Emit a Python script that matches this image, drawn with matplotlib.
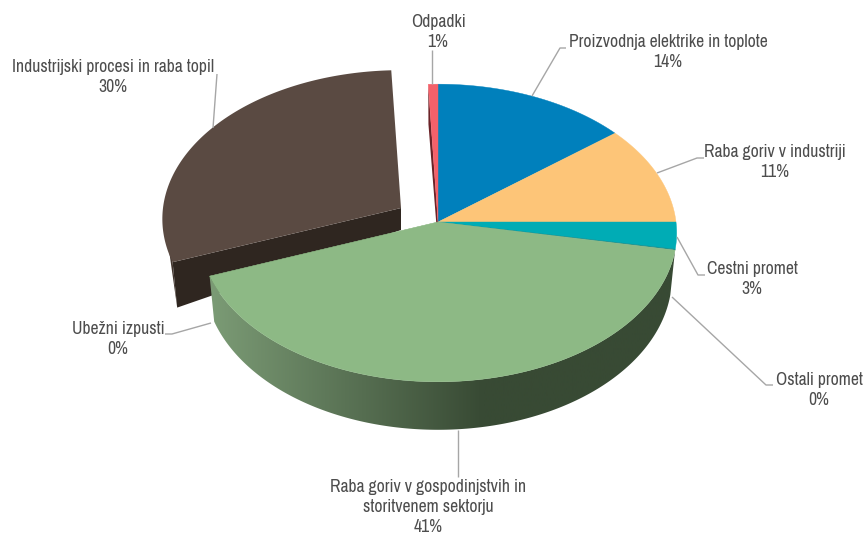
import matplotlib
matplotlib.use("Agg")
import matplotlib.pyplot as plt
import numpy as np
from matplotlib.colors import LinearSegmentedColormap
from matplotlib.patches import Polygon

plt.rcParams["font.family"] = ["Archivo Narrow", "Roboto Condensed", "Liberation Sans Narrow", "Liberation Sans"]

# shares, labels show them rounded
names = [
    "Proizvodnja elektrike in toplote",
    "Raba goriv v industriji",
    "Cestni promet",
    "Ostali promet",
    "Raba goriv v gospodinjstvih in\nstoritvenem sektorju",
    "Ubežni izpusti",
    "Industrijski procesi in raba topil",
    "Odpadki",
]
shares = [14.2, 10.8, 2.9, 0.1, 41.2, 0.0, 30.1, 0.7]
colors = ["#0080BC", "#FDC578", "#00ACB5", "#0F8A8A", "#8DB985", "#8DB985", "#5A4A42", "#F4616A"]

label_pos = [(668, 52), (775, 162), (752, 279), (819, 390), (428, 507), (118, 339), (113, 77), (438, 32)]
leaders = [
    [(532, 96), (560, 48), (566, 48)],
    [(657, 173), (697, 158), (704, 158)],
    [(677, 237), (698, 275), (705, 275)],
    [(672, 297), (766, 385), (773, 385)],
    [(458, 430), (458, 477)],
    [(211, 323), (172, 334), (165, 334)],
    [(213, 128), (217, 74)],
    [(432, 50), (432, 84)],
]

# perspective of the pie disc, in pixels
CX, CY = 438, 222
RX, RY, PERSP = 238, 148, 0.0738


def top(theta, shift=(0, 0)):
    u, v = np.sin(theta), np.cos(theta)
    s = 1 / (1 + PERSP * v)
    return CX + shift[0] + RX * u * s, CY + shift[1] - RY * v * s


def bottom(theta, shift=(0, 0)):
    x, y = top(theta)
    v = np.cos(theta)
    return CX + shift[0] + 0.98 * (x - CX), y + shift[1] + 44 - 4 * v


def arc(a, b):
    return np.linspace(a, b, max(int(abs(b - a) * 120), 2))


fig = plt.figure(figsize=(8.67, 5.35), dpi=100)
ax = fig.add_axes([0, 0, 1, 1])
ax.set_xlim(0, 867)
ax.set_ylim(535, 0)
ax.axis("off")

edges = np.cumsum([0] + shares) / 100 * 2 * np.pi
brown = 6
shift = (-37, -14)

# exploded slice first, it sits behind the rest
a, b = edges[brown], edges[brown + 1]
ux, uy = top(arc(a, b), shift)
bx, by = bottom(a, shift)
tx, ty = top(a, shift)
ex, ey = top(1.5 * np.pi, shift)
ax.fill([ex, bx, tx], [ey, by, ty], color="#43362F", lw=0)
ax.fill(
    [CX + shift[0], CX + shift[0], bx, tx],
    [CY + shift[1], CY + shift[1] + 22, by, ty],
    color="#2F2620",
    lw=0,
)
ax.fill(np.r_[CX + shift[0], ux], np.r_[CY + shift[1], uy], color=colors[brown], lw=0)

# dark radial face of the last slice
a = edges[brown + 1]
ax.fill(
    [CX, top(a)[0], bottom(a)[0], CX],
    [CY, top(a)[1], bottom(a)[1], CY + 23],
    color="#6B2328",
    lw=0,
)

# front wall of the pie, gradient clipped to its outline
front = arc(edges[4], edges[6])
fx, fy = top(front)
gx, gy = bottom(front)
wall = Polygon(np.c_[np.r_[fx, gx[::-1]], np.r_[fy, gy[::-1]]], closed=True, fc="none", ec="none")
ax.add_patch(wall)
cmap = LinearSegmentedColormap.from_list("wall", ["#7C9C76", "#384A34", "#384A34"])
grad = np.linspace(0, 1, 256)[None, :]
im = ax.imshow(grad, extent=(207, 759, 535, 0), cmap=cmap, aspect="auto", zorder=1)
im.set_clip_path(wall)

# top faces
for i in range(len(shares)):
    if i == brown:
        continue
    x, y = top(arc(edges[i], edges[i + 1]))
    ax.fill(np.r_[CX, x], np.r_[CY, y], color=colors[i], lw=0.3, zorder=2)

for pts in leaders:
    xs, ys = zip(*pts)
    ax.plot(xs, ys, color="#A6A6A6", lw=1.0, solid_capstyle="butt", zorder=3)

for name, val, (x, y) in zip(names, shares, label_pos):
    ax.text(
        x,
        y,
        f"{name}\n{val:.0f}%",
        ha="center",
        va="center",
        fontsize=12.7,
        color="#4D4D4D",
        linespacing=1.3,
        zorder=4,
    )

fig.savefig("out.png", dpi=100)
